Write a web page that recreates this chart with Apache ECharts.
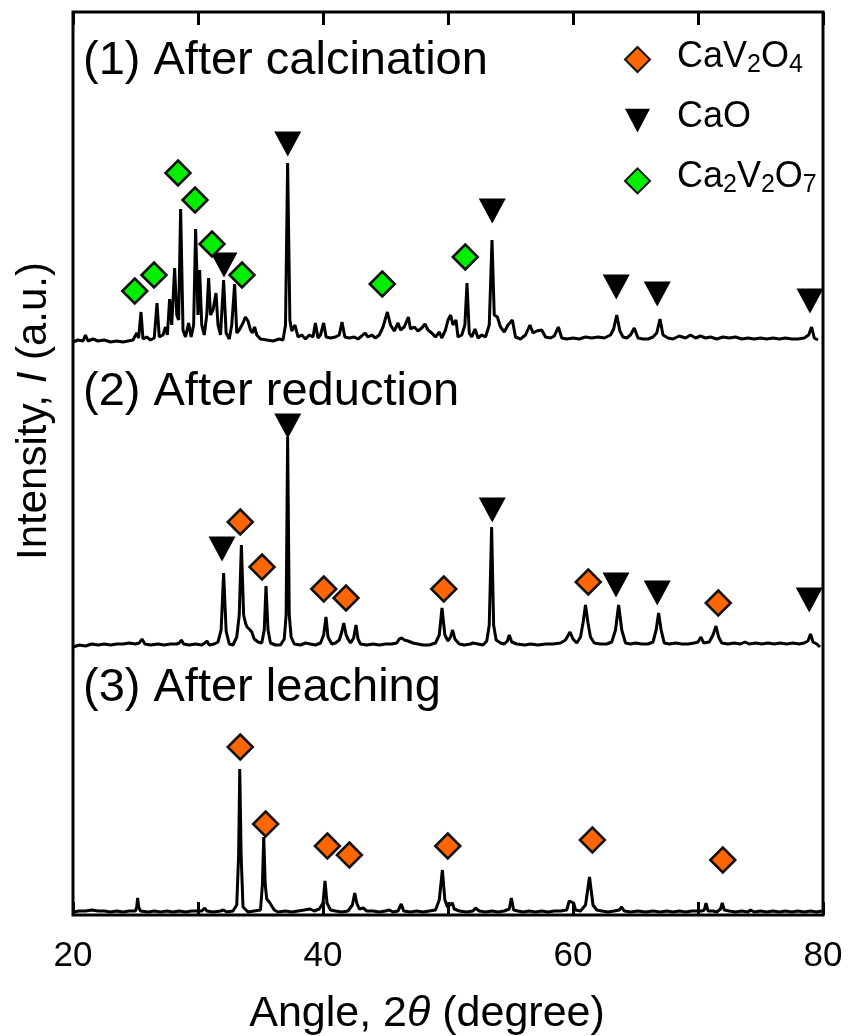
<!DOCTYPE html>
<html>
<head>
<meta charset="utf-8">
<script src="https://cdn.jsdelivr.net/npm/echarts@6/dist/echarts.min.js"></script>
<style>
  html, body { margin: 0; padding: 0; background: #fff; }
  #xrd { width: 853px; height: 1036px; }
</style>
</head>
<body>
<div id="xrd"></div>
<script>
// 2theta (degree) vs intensity (a.u., patterns stacked)
const calcination = [
  [20.0,573],[20.4,575],[20.8,574],[21.0,580],[21.2,574],[21.6,576],[22.0,574],[22.5,575],[23.0,573],[23.5,574],[24.0,573],[24.4,574],
  [24.8,575],[25.1,582],[25.25,577],[25.44,603],[25.6,576],[25.9,578],[26.2,575],[26.5,577],[26.72,612],[26.9,578],[27.2,580],[27.4,588],
  [27.55,580],[27.73,616],[27.9,590],[28.13,647],[28.3,600],[28.45,595],[28.61,706],[28.8,585],[29.0,578],[29.25,592],[29.45,578],[29.65,590],
  [29.81,686],[30.0,600],[30.13,645],[30.3,590],[30.5,580],[30.7,600],[30.85,637],[31.0,600],[31.2,605],[31.44,622],[31.6,590],[31.8,580],
  [32.05,635],[32.25,582],[32.5,576],[32.7,590],[32.93,631],[33.1,582],[33.3,585],[33.6,592],[33.79,598],[34.0,594],[34.2,585],[34.35,582],
  [34.53,588],[34.7,580],[35.0,576],[35.5,575],[36.0,574],[36.5,576],[36.8,575],[37.0,590],[37.17,752],[37.35,595],[37.5,584],[37.76,590],
  [38.0,578],[38.3,580],[38.6,576],[38.9,580],[39.2,578],[39.39,592],[39.6,577],[39.8,580],[40.05,592],[40.25,578],[40.6,577],[41.0,578],
  [41.3,580],[41.52,593],[41.75,578],[42.1,577],[42.5,578],[42.8,576],[43.1,579],[43.36,582],[43.6,578],[43.9,580],[44.2,577],[44.5,580],
  [44.8,588],[45.15,603],[45.4,590],[45.7,584],[46.0,592],[46.2,585],[46.5,588],[46.83,598],[47.0,586],[47.3,588],[47.6,584],[47.9,587],
  [48.16,591],[48.4,585],[48.7,582],[49.0,578],[49.31,583],[49.5,577],[49.8,585],[50.0,595],[50.21,600],[50.4,590],[50.64,595],[50.8,578],
  [51.1,580],[51.35,590],[51.52,632],[51.7,582],[51.9,578],[52.16,586],[52.4,577],[52.7,580],[53.0,578],[53.3,590],[53.52,675],[53.7,600],
  [53.95,598],[54.2,588],[54.5,583],[54.8,590],[55.15,595],[55.4,578],[55.8,576],[56.2,580],[56.56,590],[56.8,582],[57.1,584],[57.5,585],
  [57.8,578],[58.2,577],[58.5,579],[58.83,588],[59.1,577],[59.5,576],[60.0,577],[60.5,576],[61.0,578],[61.5,577],[62.0,578],[62.5,577],
  [63.0,580],[63.25,586],[63.5,600],[63.75,584],[64.0,578],[64.3,577],[64.6,580],[64.9,587],[65.2,577],[65.6,576],[66.0,576],[66.4,578],
  [66.7,582],[66.96,596],[67.2,580],[67.6,577],[68.0,576],[68.5,579],[69.0,577],[69.4,580],[69.8,577],[70.2,579],[70.6,577],[71.0,578],
  [71.5,576],[72.0,578],[72.5,577],[73.0,578],[73.5,576],[74.0,577],[74.5,576],[75.0,577],[75.5,576],[76.0,577],[76.5,576],[77.0,577],
  [77.5,576],[78.0,576],[78.5,577],[78.85,580],[79.09,588],[79.3,577],[79.6,575]
]
const reduction = [
  [20.0,268],[20.5,270],[21.0,269],[21.5,271],[22.0,270],[22.5,271],[23.0,270],[23.5,271],[24.0,271],[24.5,272],[25.0,271],[25.3,272],
  [25.52,276],[25.75,271],[26.2,270],[26.8,271],[27.3,270],[27.8,271],[28.3,271],[28.5,272],[28.67,275],[28.85,271],[29.3,270],[29.8,271],
  [30.3,270],[30.55,272],[30.72,274],[30.9,270],[31.3,271],[31.6,273],[31.85,285],[32.05,342],[32.25,284],[32.5,271],[32.8,270],[33.1,278],
  [33.3,300],[33.47,370],[33.65,300],[33.8,292],[33.92,288],[34.1,286],[34.3,283],[34.5,276],[34.8,273],[35.1,272],[35.3,285],[35.44,329],
  [35.6,285],[35.8,272],[36.2,270],[36.6,270],[36.9,276],[37.05,300],[37.17,478],[37.3,300],[37.45,278],[37.7,271],[38.2,270],[38.6,272],
  [38.99,271],[39.4,270],[39.8,272],[40.05,280],[40.24,298],[40.4,278],[40.7,271],[41.0,272],[41.3,275],[41.5,283],[41.66,292],[41.85,280],
  [42.0,276],[42.2,272],[42.45,277],[42.64,290],[42.8,276],[43.0,271],[43.5,270],[44.0,271],[44.5,270],[45.0,271],[45.5,271],[45.9,272],
  [46.1,276],[46.32,277],[46.5,275],[46.8,274],[47.2,272],[47.6,271],[48.0,270],[48.5,270],[49.0,272],[49.3,280],[49.52,307],[49.75,280],
  [50.0,274],[50.2,278],[50.37,285],[50.55,276],[50.9,271],[51.3,270],[51.8,271],[52.0,272],[52.16,273],[52.4,271],[52.8,270],[53.1,274],
  [53.3,290],[53.49,388],[53.65,290],[53.85,275],[54.2,272],[54.5,271],[54.75,274],[54.9,280],[55.1,273],[55.5,271],[56.16,270],[56.6,271],
  [57.2,270],[57.8,271],[58.4,271],[59.0,272],[59.4,275],[59.76,283],[60.0,276],[60.3,272],[60.6,278],[60.8,292],[61.0,310],[61.2,292],
  [61.4,278],[61.7,272],[62.2,271],[62.7,271],[63.1,273],[63.4,285],[63.65,310],[63.9,285],[64.2,272],[64.6,271],[65.0,272],[65.5,271],
  [66.0,271],[66.4,273],[66.65,285],[66.85,302],[67.05,285],[67.3,272],[67.7,271],[68.2,272],[68.7,271],[69.2,271],[69.7,272],[70.0,273],
  [70.24,278],[70.45,272],[70.9,273],[71.2,280],[71.44,289],[71.65,278],[71.9,272],[72.4,271],[72.9,272],[73.4,271],[73.76,273],[74.1,271],
  [74.6,272],[75.1,271],[75.6,272],[76.1,271],[76.6,272],[77.1,271],[77.6,272],[78.1,271],[78.5,272],[78.8,274],[79.0,281],[79.2,273],
  [79.5,271],[79.76,268]
]
const leaching = [
  [20.0,3],[20.5,4],[21.0,4],[21.5,5],[22.0,4],[22.5,4],[23.0,3],[23.5,4],[24.0,3],[24.5,4],[25.0,4],[25.1,8],[25.17,17],[25.25,8],
  [25.4,4],[26.0,3],[26.5,4],[27.0,3],[27.5,4],[28.0,3],[28.5,4],[29.0,3],[29.5,4],[30.0,4],[30.3,4],[30.54,7],[30.7,4],[31.2,3],
  [31.8,4],[32.03,5],[32.3,3],[32.8,4],[33.1,10],[33.25,60],[33.34,146],[33.45,60],[33.6,8],[34.0,3],[34.5,4],[35.0,5],[35.15,30],
  [35.26,78],[35.38,30],[35.5,16],[35.7,13],[35.9,9],[36.1,5],[36.4,3],[37.0,4],[37.5,3],[38.0,4],[38.5,5],[38.96,6],[39.3,4],[39.7,6],
  [40.0,12],[40.16,34],[40.32,12],[40.6,5],[41.0,4],[41.5,3],[42.0,4],[42.35,10],[42.54,22],[42.7,12],[42.9,6],[43.22,7],[43.5,4],
  [44.0,4],[44.5,3],[45.0,4],[45.3,5],[45.6,3],[46.0,4],[46.26,11],[46.45,4],[47.0,3],[47.5,4],[48.0,3],[48.5,4],[49.0,5],[49.3,15],
  [49.55,45],[49.75,15],[49.95,8],[50.15,10],[50.35,12],[50.5,6],[50.9,4],[51.5,3],[52.0,4],[52.2,7],[52.35,8],[52.5,4],[53.0,3],
  [53.5,4],[54.0,3],[54.5,4],[54.9,6],[55.07,17],[55.25,5],[55.6,4],[56.0,3],[56.5,4],[57.0,3],[57.5,4],[58.0,3],[58.5,4],[59.0,4],
  [59.5,5],[59.7,14],[59.85,15],[60.05,12],[60.2,5],[60.6,4],[61.0,10],[61.32,38],[61.6,10],[61.9,5],[62.3,4],[62.8,3],[63.3,4],
  [63.7,5],[63.89,8],[64.1,4],[64.6,3],[65.2,4],[65.8,3],[66.4,4],[67.0,3],[67.5,4],[68.0,3],[68.5,4],[69.0,3],[69.5,4],[70.0,4],
  [70.3,4],[70.5,5],[70.64,12],[70.8,4],[71.2,4],[71.5,3],[71.8,6],[71.94,12],[72.1,5],[72.5,4],[73.0,3],[73.5,4],[74.0,3],[74.2,5],
  [74.5,3],[75.0,4],[75.5,3],[76.0,4],[76.5,3],[77.0,4],[77.5,3],[78.0,4],[78.5,3],[79.0,4],[79.5,3],[79.9,4]
]

// phase markers above the peaks
const cav2o4Marks = [
  [33.38,393],[35.12,348],[40.06,326],[41.84,317],[49.66,326],[61.22,333],[71.62,312],
  [33.38,168],[35.41,91],[40.35,69],[42.11,60],[49.98,69],[61.55,75],[71.98,55]
]
const caoMarks = [
  [32.08,650],[37.18,771],[53.54,704],[63.46,628],[66.74,621],[78.96,614],
  [31.92,366],[37.18,489],[53.54,405],[63.44,330],[66.74,322],[78.9,315]
]
const ca2v2o7Marks = [
  [24.94,624],[26.48,640],[28.4,742],[29.76,715],[31.12,671],[33.52,640],[44.74,631],[51.38,658]
]

const xTicks = [20, 40, 60, 80]
const sampleNames = ['(1) After calcination', '(2) After reduction', '(3) After leaching']
const phaseLabels = ['{n|CaV}{s|2}{n|O}{s|4}', '{n|CaO}', '{n|Ca}{s|2}{n|V}{s|2}{n|O}{s|7}']

const font = '"Liberation Sans", Arial, sans-serif'
const triDown = 'path://M0,0L20,0L10,19Z'

// legend labels drawn as text next to the legend icons
const subRich = {
  n: { fontSize: 36, fontFamily: font, fill: '#000', lineHeight: 42 },
  s: { fontSize: 25, fontFamily: font, fill: '#000', lineHeight: 12, verticalAlign: 'bottom' }
}
const legendLabels = phaseLabels.map((t, i) => ({
  type: 'text', x: 677, y: 57 + i * 60,
  style: { text: t, fontSize: 36, fontFamily: font, fill: '#000', textVerticalAlign: 'middle', rich: subRich }
}))

const chart = echarts.init(document.getElementById('xrd'))

chart.setOption({
  animation: false,
  backgroundColor: '#fff',
  grid: {
    left: 73, right: 30, top: 12, bottom: 121,
    show: true, borderColor: '#000', borderWidth: 3
  },
  xAxis: [{
    type: 'value', min: 20, max: 80, interval: 10,
    axisLine: { show: false },
    axisTick: { inside: true, length: 13, lineStyle: { color: '#000', width: 3 } },
    splitLine: { show: false },
    axisLabel: {
      margin: 24, color: '#000', fontSize: 35, fontFamily: font,
      formatter: v => xTicks.includes(v) ? String(v) : ''
    }
  }, {
    type: 'value', position: 'top', min: 20, max: 80, interval: 10,
    axisLine: { show: false },
    axisTick: { inside: true, length: 13, lineStyle: { color: '#000', width: 3 } },
    splitLine: { show: false },
    axisLabel: { show: false }
  }],
  yAxis: {
    type: 'value', min: 0, max: 903,
    axisLine: { show: false }, axisTick: { show: false },
    axisLabel: { show: false }, splitLine: { show: false }
  },
  legend: {
    orient: 'vertical', left: 619, top: 41,
    itemWidth: 25, itemHeight: 25, itemGap: 35,
    data: [{ name: 'CaV2O4' }, { name: 'CaO', icon: triDown }, { name: 'Ca2V2O7' }],
    formatter: () => '',
    selectedMode: false
  },
  graphic: [
    { type: 'text', left: 83, top: 38, style: { text: sampleNames[0], font: '47px ' + font, fill: '#000' } },
    { type: 'text', left: 83, top: 369, style: { text: sampleNames[1], font: '47px ' + font, fill: '#000' } },
    { type: 'text', left: 83, top: 665, style: { text: sampleNames[2], font: '47px ' + font, fill: '#000' } },
    ...legendLabels,
    {
      type: 'text', x: 427, y: 1014,
      style: {
        text: '{a|Angle, 2}{i|θ}{a| (degree)}', textAlign: 'center', textVerticalAlign: 'middle',
        rich: {
          a: { fontSize: 43, fontFamily: font, fill: '#000' },
          i: { fontSize: 43, fontFamily: font, fontStyle: 'italic', fill: '#000' }
        }
      }
    },
    {
      type: 'text', x: 34, y: 411, rotation: Math.PI / 2,
      style: {
        text: '{a|Intensity, }{i|I}{a| (a.u.)}', textAlign: 'center', textVerticalAlign: 'middle',
        rich: {
          a: { fontSize: 42, fontFamily: font, fill: '#000' },
          i: { fontSize: 42, fontFamily: font, fontStyle: 'italic', fill: '#000' }
        }
      }
    }
  ],
  series: [
    { name: 'calcination', type: 'line', data: calcination, showSymbol: false, lineStyle: { color: '#000', width: 3 }, z: 2 },
    { name: 'reduction', type: 'line', data: reduction, showSymbol: false, lineStyle: { color: '#000', width: 3 }, z: 2 },
    { name: 'leaching', type: 'line', data: leaching, showSymbol: false, lineStyle: { color: '#000', width: 3 }, z: 2 },
    {
      name: 'CaV2O4', type: 'scatter', data: cav2o4Marks, symbol: 'diamond', symbolSize: 25, clip: false, z: 5,
      itemStyle: { color: '#ff6600', borderColor: '#111', borderWidth: 2.5, opacity: 1 }
    },
    {
      name: 'CaO', type: 'scatter', data: caoMarks, symbol: triDown, symbolSize: [27, 25], clip: false, z: 5,
      itemStyle: { color: '#000', opacity: 1 }
    },
    {
      name: 'Ca2V2O7', type: 'scatter', data: ca2v2o7Marks, symbol: 'diamond', symbolSize: 25, clip: false, z: 5,
      itemStyle: { color: '#00ee00', borderColor: '#111', borderWidth: 2.5, opacity: 1 }
    }
  ]
})
</script>
</body>
</html>
